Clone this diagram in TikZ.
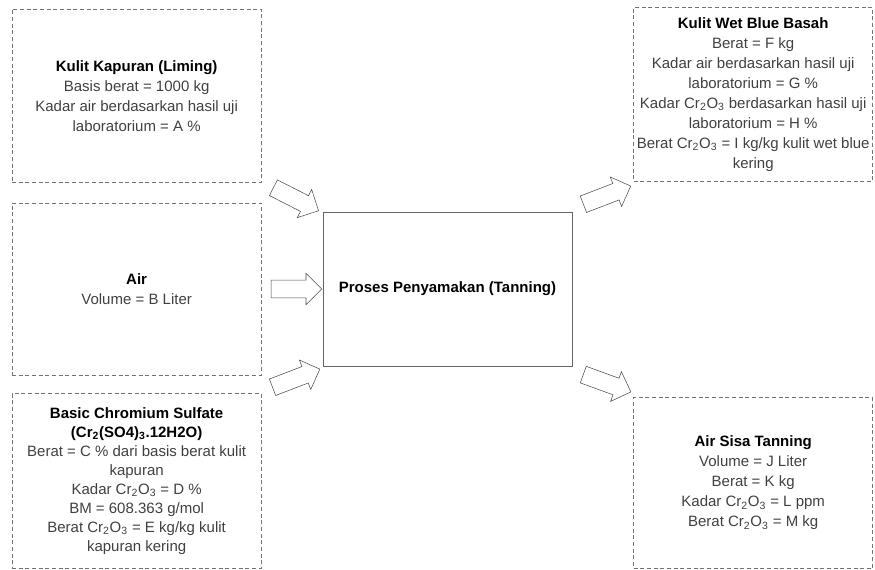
\documentclass[tikz,border=0pt]{standalone}
\usepackage{fontspec}
\setmainfont{Liberation Sans}
\usepackage{tikz}
\usetikzlibrary{arrows.meta,positioning,shapes.arrows,calc}

\newcommand{\crooks}{Cr\textsubscript{2}O\textsubscript{3}}

\begin{document}
\begin{tikzpicture}[
          x = 0.75pt, y = -0.75pt, % pixel grid
          font = \fontsize{11.25}{15}\selectfont,
          box/.style = {draw = black!55, densely dashed, align = center,
                        inner sep = 2pt, text = black!75},
          inbox/.style = {box, minimum width = 187pt},
          outbox/.style = {box, minimum width = 179.25pt},
          proses/.style = {draw = black!60, solid, minimum width = 187pt,
                           minimum height = 115.5pt, align = center},
          blok/.style = {single arrow, draw = black!70, fill = white,
                         minimum height = 38pt, inner sep = 6.4pt,
                         single arrow head extend = 5.25pt}
          ]

          \useasboundingbox (0,0) rectangle (875,570);

          % central process
          \node[proses] (proses) at (447.5,289) {\textbf{Proses Penyamakan (Tanning)}};

          % inputs
          \node[inbox, minimum height = 129pt] (air) [left=45.75pt of proses]
               {\textbf{\color{black}Air}\\ Volume = B Liter};
          \node[inbox, minimum height = 130pt] (kapur) [above=15pt of air]
               {\textbf{\color{black}Kulit Kapuran (Liming)}\\ Basis berat = 1000 kg\\
                Kadar air berdasarkan hasil uji\\ laboratorium = A \%};
          \node[inbox, minimum height = 131pt, font = \fontsize{11.25}{14.2}\selectfont] (bcs) [below=13.5pt of air]
               {\textbf{\color{black}Basic Chromium Sulfate}\\
                \textbf{\color{black}(Cr\textsubscript{2}(SO4)\textsubscript{3}.12H2O)}\\
                Berat = C \% dari basis berat kulit\\ kapuran\\
                Kadar \crooks{} = D \%\\ BM = 608.363 g/mol\\
                Berat \crooks{} = E kg/kg kulit\\ kapuran kering};

          % outputs
          \node[outbox, minimum height = 130.5pt] (wetblue) [above right=22.5pt and 45.75pt of proses]
               {\textbf{\color{black}Kulit Wet Blue Basah}\\ Berat = F kg\\
                Kadar air berdasarkan hasil uji\\ laboratorium = G \%\\
                Kadar \crooks{} berdasarkan hasil uji\\ laboratorium = H \%\\
                Berat \crooks{} = I kg/kg kulit wet blue\\ kering};
          \node[outbox, minimum height = 128.25pt] (sisa) [below right=23.25pt and 45.75pt of proses]
               {\textbf{\color{black}Air Sisa Tanning}\\ Volume = J Liter\\ Berat = K kg\\
                Kadar \crooks{} = L ppm\\ Berat \crooks{} = M kg};

          % block arrows
          \node[blok, rotate=-27] (a1) at ($(kapur.south east)!0.5!(proses.north west)$) {};
          \node[blok] (a2) at ($(air.east)!0.5!(proses.west)$) {};
          \node[blok, rotate=21] (a3) at ($(bcs.north east)!0.5!(proses.south west)$) {};
          \node[blok, rotate=21] (a4) at ($(proses.north east)!0.5!(wetblue.south west)$) {};
          \node[blok, rotate=-20] (a5) at ($(proses.south east)!0.5!(sisa.north west)$) {};

        \end{tikzpicture}
\end{document}
